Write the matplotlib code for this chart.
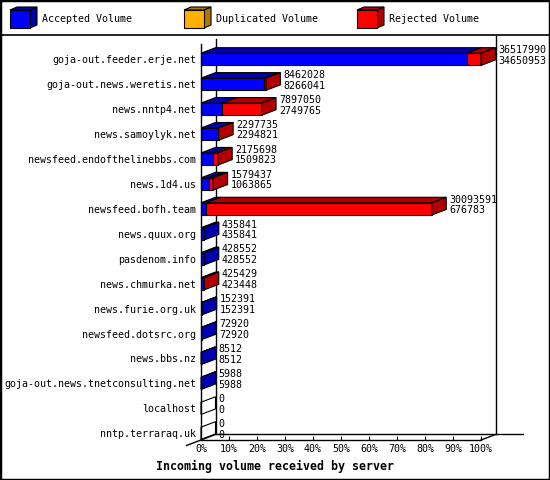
import matplotlib
matplotlib.use("Agg")
import matplotlib.pyplot as plt
from matplotlib.patches import Polygon, Rectangle
from matplotlib.lines import Line2D
from matplotlib.ticker import PercentFormatter

# data
hosts = [
    "goja-out.feeder.erje.net",
    "goja-out.news.weretis.net",
    "news.nntp4.net",
    "news.samoylyk.net",
    "newsfeed.endofthelinebbs.com",
    "news.1d4.us",
    "newsfeed.bofh.team",
    "news.quux.org",
    "pasdenom.info",
    "news.chmurka.net",
    "news.furie.org.uk",
    "newsfeed.dotsrc.org",
    "news.bbs.nz",
    "goja-out.news.tnetconsulting.net",
    "localhost",
    "nntp.terraraq.uk",
]
total_volume = [36517990, 8462028, 7897050, 2297735, 2175698, 1579437,
                30093591, 435841, 428552, 425429, 152391, 72920, 8512,
                5988, 0, 0]
accepted_volume = [34650953, 8266041, 2749765, 2294821, 1509823, 1063865,
                   676783, 435841, 428552, 423448, 152391, 72920, 8512,
                   5988, 0, 0]
duplicated_volume = [0] * 16

series_names = ["Accepted Volume", "Duplicated Volume", "Rejected Volume"]
face_colors = ["#0000ff", "#ffb000", "#ff0000"]
shade_colors = ["#0000b0", "#b07800", "#b00000"]

MONO = "DejaVu Sans Mono"
W, H = 550, 480
DX = 14.5 / 280 * 100      # depth offset in percent
DY = -5.5 / 24.93          # depth offset in rows
HALF = 0.245               # half bar height in rows
LW = 0.8

fig = plt.figure(figsize=(W / 100, H / 100), dpi=100)
fig.patch.set_facecolor("white")

ax = fig.add_axes([201 / W, 40 / H, 280 / W, 396 / H])
ymax, ymin = 15.27, -0.614
ax.set_xlim(0, 100)
ax.set_ylim(ymax, ymin)
ax.set_facecolor("none")

for s in ("top", "right"):
    ax.spines[s].set_visible(False)
for s in ("left", "bottom"):
    ax.spines[s].set_linewidth(1)
    ax.spines[s].set_zorder(5)

ax.set_xticks(range(0, 101, 10))
ax.xaxis.set_major_formatter(PercentFormatter(decimals=0))
ax.set_yticks(range(len(hosts)))
ax.set_yticklabels(hosts)
ax.tick_params(axis="x", direction="in", length=3, width=0.8, pad=3,
               labelsize=7.2)
ax.tick_params(axis="y", length=0, pad=3.6, labelsize=7.2)
for lab in ax.get_xticklabels() + ax.get_yticklabels():
    lab.set_family(MONO)

# back walls and floor
wall = dict(color="black", lw=1, clip_on=False, zorder=1)
ax.add_line(Line2D([DX, DX], [-0.814, ymax + DY], **wall))
ax.add_line(Line2D([100 + DX, 100 + DX], [-0.935, ymax + DY], **wall))
ax.add_line(Line2D([DX, 115], [ymax + DY, ymax + DY], **wall))
ax.add_line(Line2D([-DX, DX], [ymax - DY, ymax + DY], **wall))
ax.add_line(Line2D([100, 100 + DX], [ymax, ymax + DY], **wall))

scale = 100.0 / max(total_volume)
for row, (tot, acc, dup) in enumerate(zip(total_volume, accepted_volume,
                                          duplicated_volume)):
    segments = [acc, dup, tot - acc - dup]
    top, bot = row - HALF, row + HALF
    x0 = 0.0
    side = "white"
    for val, fc, sc in zip(segments, face_colors, shade_colors):
        if val <= 0:
            continue
        w = val * scale
        x1 = x0 + w
        ax.add_patch(Rectangle((x0, top), w, 2 * HALF, fc=fc, ec="black",
                               lw=LW, clip_on=False, zorder=2))
        ax.add_patch(Polygon([(x0, top), (x1, top), (x1 + DX, top + DY),
                              (x0 + DX, top + DY)], closed=True, fc=sc,
                             ec="black", lw=LW, clip_on=False, zorder=2))
        x0 = x1
        side = sc
    ax.add_patch(Polygon([(x0, top), (x0 + DX, top + DY), (x0 + DX, bot + DY),
                          (x0, bot)], closed=True, fc=side, ec="black",
                         lw=LW, clip_on=False, zorder=3))
    tx = x0 + DX + 1.1
    ax.text(tx, row - 0.373, str(tot), family=MONO, fontsize=7.2,
            ha="left", va="center", zorder=6, clip_on=False)
    ax.text(tx, row + 0.056, str(acc), family=MONO, fontsize=7.2,
            ha="left", va="center", zorder=6, clip_on=False)

fig.text(0.5, 1 - 466 / H, "Incoming volume received by server",
         family=MONO, fontsize=8.4, fontweight="bold", ha="center",
         va="center")

# legend strip
lax = fig.add_axes([0, 1 - 35 / H, 1, 35 / H])
lax.set_xlim(0, W)
lax.set_ylim(35, 0)
lax.axis("off")
legend_x = [10, 184, 357]
for lx, name, fc, sc in zip(legend_x, series_names, face_colors,
                            shade_colors):
    lax.add_patch(Polygon([(lx + 20, 10), (lx + 27, 7), (lx + 27, 25),
                           (lx + 20, 28)], closed=True, fc=sc, ec="black",
                          lw=LW))
    lax.add_patch(Polygon([(lx, 10), (lx + 20, 10), (lx + 27, 7),
                           (lx + 7, 7)], closed=True, fc=sc, ec="black",
                          lw=LW))
    lax.add_patch(Rectangle((lx, 10), 20, 18, fc=fc, ec="black", lw=LW))
    lax.text(lx + 32, 19, name, family=MONO, fontsize=7.2, ha="left",
             va="center")

# frame around the image and under the legend
fig.add_artist(Rectangle((0, 0), 1, 1, transform=fig.transFigure,
                         fill=False, ec="black", lw=2.5))
fig.add_artist(Line2D([0, 1], [1 - 35 / H, 1 - 35 / H],
                      transform=fig.transFigure, color="black", lw=1.2))

fig.savefig("out.png", dpi=100)
